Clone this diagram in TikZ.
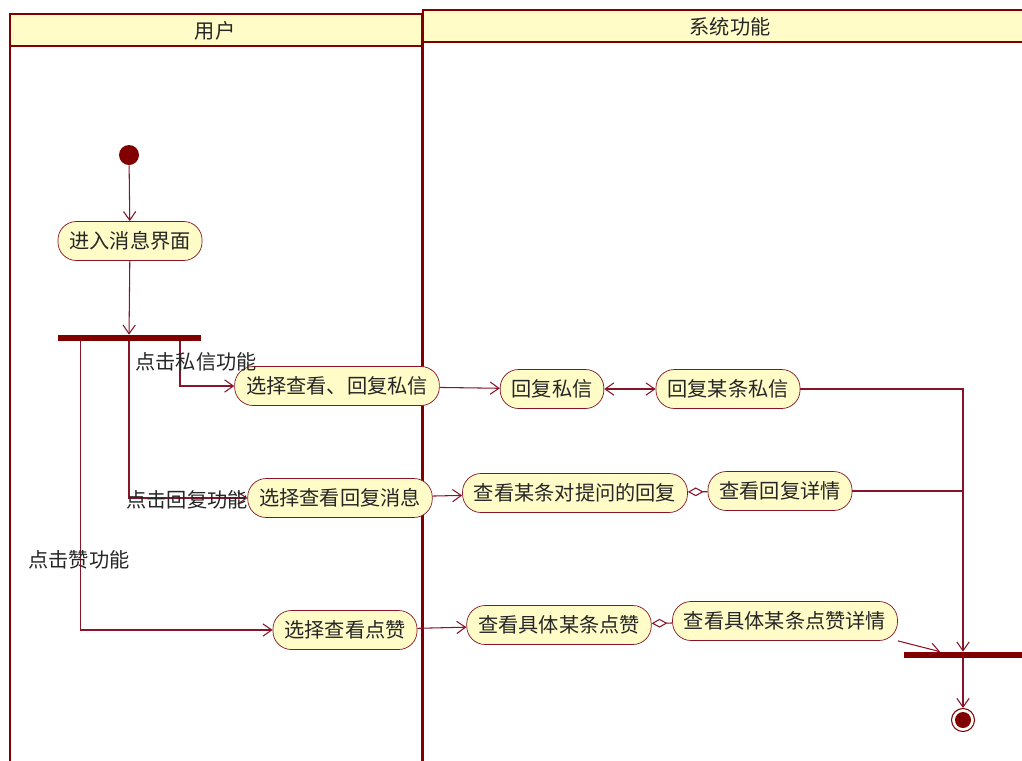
\documentclass[tikz,border=0pt]{standalone}
\usepackage{fontspec}
\setmainfont{Noto Sans CJK SC}
\usepackage{tikz}
\usetikzlibrary{arrows.meta}

\definecolor{umlred}{RGB}{128,0,0}
\definecolor{umlline}{RGB}{135,20,40}
\definecolor{umlfill}{RGB}{255,252,200}

\begin{document}
\begin{tikzpicture}[font=\fontsize{11.5pt}{13.5pt}\selectfont, text=black!85]
                \tikzstyle{act}=[rectangle, draw=umlline, fill=umlfill, rounded corners=10.5pt, minimum height=0.78cm, inner xsep=6.5pt, inner ysep=0pt]
                \tikzstyle{bar}=[rectangle, fill=umlred, inner sep=0pt, minimum height=0.12cm]
                \tikzstyle{flow}=[draw=umlline, line width=0.6pt, -{Straight Barb[length=5pt,width=7pt]}]
                \tikzstyle{both}=[draw=umlline, line width=0.6pt, {Straight Barb[length=5pt,width=7pt]}-{Straight Barb[length=5pt,width=7pt]}]
                \tikzstyle{agg}=[draw=umlline, line width=0.6pt, {Diamond[open,length=9pt,width=5pt]}-]
                \tikzstyle{lane}=[draw=umlred, line width=1.2pt]

                \useasboundingbox (0,0) rectangle (20.44,-15.2);

                % swimlanes
                \draw[lane] (0.2,-0.28) rectangle (8.44,-16);
                \draw[lane, fill=umlfill] (0.2,-0.28) rectangle (8.44,-0.92);
                \draw[lane] (8.46,-0.2) rectangle (21,-16);
                \draw[lane, fill=umlfill] (8.46,-0.2) rectangle (21,-0.84);
                \node (user) at (4.3,-0.62) {用户};
                \node (sys) at (14.6,-0.54) {系统功能};

                \node[circle, fill=umlred, inner sep=0pt, minimum size=0.4cm] (init) at (2.58,-3.1) {};
                \node[act] (n1) at (2.6,-4.82) {进入消息界面};
                \node[bar, minimum width=2.86cm] (fork) at (2.58,-6.76) {};

                \node[act] (a1) at (6.74,-7.72) {选择查看、回复私信};
                \node[act] (a2) at (11.04,-7.78) {回复私信};
                \node[act] (a3) at (14.56,-7.78) {回复某条私信};

                \node[act] (b1) at (6.8,-9.96) {选择查看回复消息};
                \node[act] (b2) at (11.5,-9.86) {查看某条对提问的回复};
                \node[act] (b3) at (15.6,-9.82) {查看回复详情};

                \node[act] (c1) at (6.9,-12.6) {选择查看点赞};
                \node[act] (c2) at (11.18,-12.5) {查看具体某条点赞};
                \node[act] (c3) at (15.7,-12.42) {查看具体某条点赞详情};

                \node[bar, minimum width=2.36cm] (join) at (19.26,-13.1) {};
                \node[circle, draw=umlred, line width=0.6pt, minimum size=0.46cm, inner sep=0pt,
                      path picture={\fill[umlred] (path picture bounding box.center) circle (0.16cm);}] (end) at (19.26,-14.4) {};

                \draw[flow] (init) -- (n1);
                \draw[flow] (n1) -- (fork);
                \draw[flow] ([xshift=1.02cm]fork.south) |- (a1);
                \draw[flow] (fork.south) |- (b1);
                \draw[flow] ([xshift=-0.97cm]fork.south) |- (c1);
                \node at (3.92,-7.24) {点击私信功能};
                \node at (3.74,-10.0) {点击回复功能};
                \node at (1.58,-11.2) {点击赞功能};

                \draw[flow] (a1) -- (a2);
                \draw[both] (a2) -- (a3);
                \draw[flow] (a3) -| (join);

                \draw[flow] (b1) -- (b2);
                \draw[agg] (b2) -- (b3);
                \draw[draw=umlline, line width=0.6pt] (b3) -- (b3 -| join);

                \draw[flow] (c1) -- (c2);
                \draw[agg] (c2) -- (c3);
                \draw[flow] (c3.south east) -- ([xshift=-0.46cm]join.north);

                \draw[flow] (join) -- (end);
            \end{tikzpicture}
\end{document}
